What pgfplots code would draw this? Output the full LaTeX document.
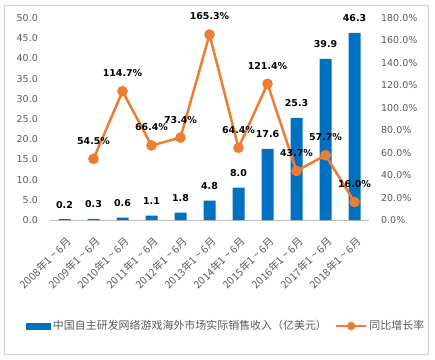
\documentclass[border=0pt]{standalone}
\usepackage{pgfplots}
\pgfplotsset{compat=1.18}
\usepackage{fontspec}
\setmainfont{DejaVu Sans}
\newfontfamily\cjk{Noto Sans CJK SC}
\definecolor{barblue}{HTML}{0070C0}
\definecolor{lineorange}{HTML}{ED7D31}
\definecolor{txtgray}{HTML}{595959}
\newcommand{\tl}{\ \textasciitilde\ }
\begin{document}
\begin{tikzpicture}
\path[use as bounding box] (0,0) rectangle (435bp,-360bp);
\draw[black!18, line width=0.8bp] (4.5bp,-5bp) rectangle (428.5bp,-354bp);
\begin{axis}[
  at={(50bp,-220bp)}, anchor=south west, scale only axis,
  width=319bp, height=202bp,
  xmin=-0.5, xmax=10.5, ymin=0, ymax=50,
  clip=false,
  axis x line*=bottom, axis y line*=left,
  x axis line style={draw=black!25, line width=0.8bp, -},
  y axis line style={draw=none},
  major tick length=0,
  /pgf/number format/assume math mode=true,
  ytick={0,5,...,50},
  yticklabel={\pgfmathprintnumber[fixed,fixed zerofill,precision=1]{\tick}},
  yticklabel style={font=\fontsize{9.5}{11}\selectfont, text=txtgray, inner sep=0pt, xshift=-12bp},
  xtick={0,...,10},
  xticklabels={2008年1\tl 6月,2009年1\tl 6月,2010年1\tl 6月,2011年1\tl 6月,2012年1\tl 6月,2013年1\tl 6月,2014年1\tl 6月,2015年1\tl 6月,2016年1\tl 6月,2017年1\tl 6月,2018年1\tl 6月},
  xticklabel style={font=\cjk\fontsize{10.5}{11}\selectfont, text=txtgray, rotate=45, anchor=north east, inner sep=0pt, xshift=-10.6bp, yshift=-12bp},
  legend style={at={(0.552,-0.525)}, anchor=center, draw=none, fill=none,
    font=\cjk\fontsize{11}{12}\selectfont, text=txtgray,
    /tikz/every even column/.append style={column sep=6bp}},
  legend columns=2,
]
\addplot[ybar, bar width=12bp, fill=barblue, draw=none,
  nodes near coords={\pgfmathprintnumber[fixed,fixed zerofill,precision=1]{\pgfplotspointmeta}},
  every node near coord/.append style={text=black, font=\bfseries\fontsize{9.5}{11}\selectfont, anchor=center, yshift=14.5bp},
  legend image code/.code={\fill[barblue] (0bp,-3.5bp) rectangle (25bp,3.5bp);}]
coordinates {(0,0.2) (1,0.3) (2,0.6) (3,1.1) (4,1.8) (5,4.8) (6,8.0) (7,17.6) (8,25.3) (9,39.9) (10,46.3)};
\addlegendentry{中国自主研发网络游戏海外市场实际销售收入（亿美元）}
\addlegendimage{legend image code/.code={\draw[lineorange, line width=2.5bp] (0bp,0bp) -- (30bp,0bp); \fill[lineorange] (15bp,0bp) circle (4bp);}}
\addlegendentry{同比增长率}
\end{axis}
\begin{axis}[
  at={(50bp,-220bp)}, anchor=south west, scale only axis,
  width=319bp, height=202bp,
  xmin=-0.5, xmax=10.5, ymin=0, ymax=180,
  clip=false,
  axis x line=none, axis y line*=right,
  y axis line style={draw=none},
  major tick length=0,
  /pgf/number format/assume math mode=true,
  ytick={0,20,...,180},
  yticklabel={\pgfmathprintnumber[fixed,fixed zerofill,precision=1]{\tick}\%},
  yticklabel style={font=\fontsize{9.5}{11}\selectfont, text=txtgray, inner sep=0pt, xshift=12bp},
]
\addplot[lineorange, line width=2.5bp, mark=*, mark size=4bp,
  mark options={fill=lineorange, draw=none},
  nodes near coords={\pgfmathprintnumber[fixed,fixed zerofill,precision=1]{\pgfplotspointmeta}\%},
  every node near coord/.append style={text=black, font=\bfseries\fontsize{9.5}{11}\selectfont, anchor=center, yshift=18bp}]
coordinates {(1,54.5) (2,114.7) (3,66.4) (4,73.4) (5,165.3) (6,64.4) (7,121.4) (8,43.7) (9,57.7) (10,16.0)};
\end{axis}
\end{tikzpicture}
\end{document}
